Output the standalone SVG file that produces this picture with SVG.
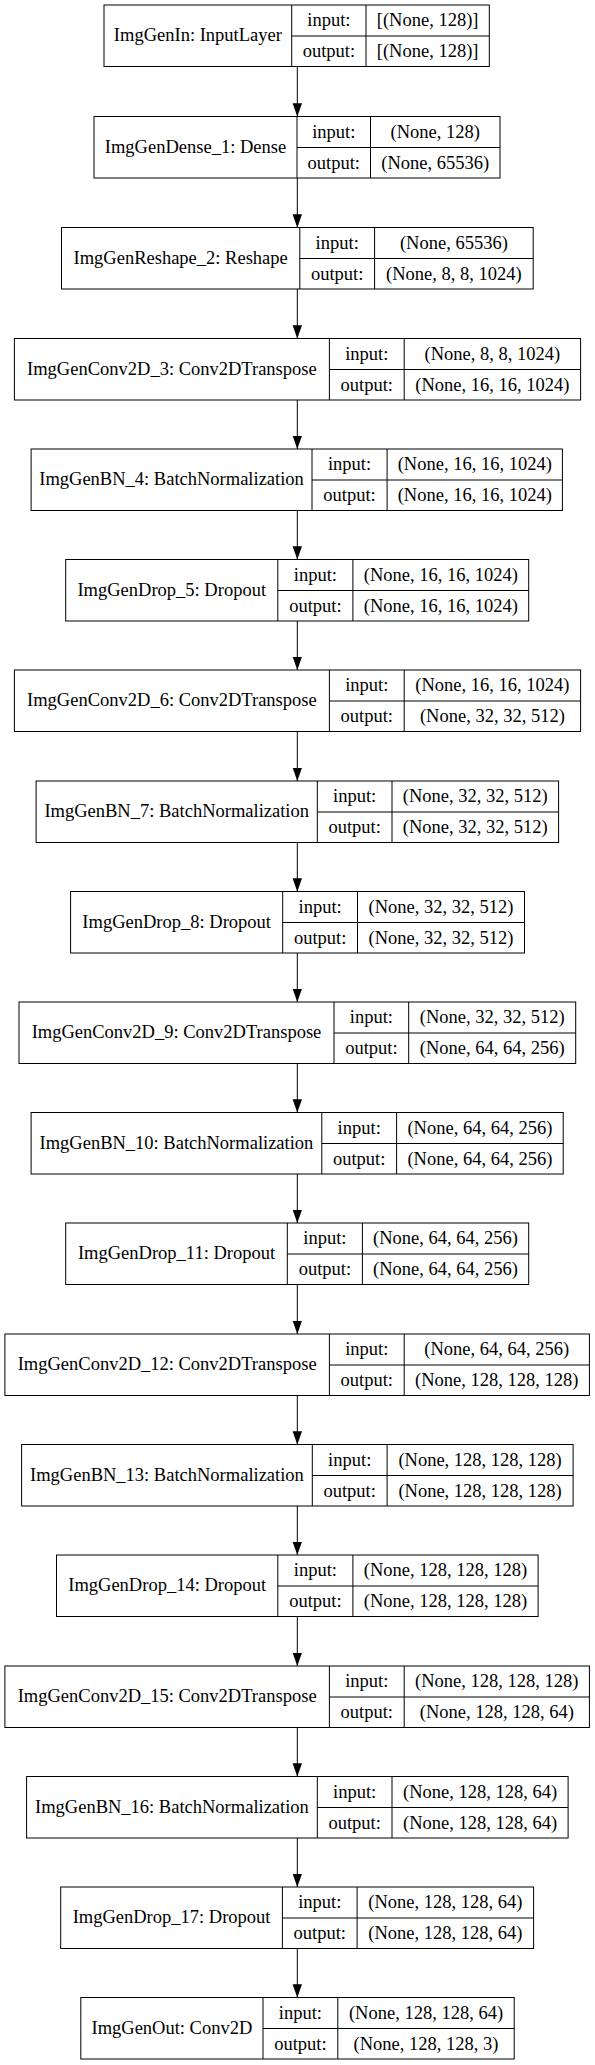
<svg xmlns="http://www.w3.org/2000/svg" width="595" height="2065" viewBox="0 0 595 2065">
<style>
.b{fill:none;stroke:#000;stroke-width:1}
text{font-family:"Liberation Serif","Times New Roman",serif;font-size:18.5px;text-anchor:middle;fill:#000}
.e{stroke:#000;stroke-width:1;fill:none;marker-end:url(#ah)}
</style>
<defs>
<marker id="ah" markerWidth="14" markerHeight="10" refX="13.3" refY="4.7" orient="auto" markerUnits="userSpaceOnUse"><polygon points="0,0 13.3,4.7 0,9.4" fill="#000"/></marker>
</defs>
<rect x="0" y="0" width="595" height="2065" fill="#fff"/>
<g id="edges">
<line class="e" x1="297.3" y1="66.5" x2="297.3" y2="116.5"/>
<line class="e" x1="297.3" y1="178" x2="297.3" y2="227.5"/>
<line class="e" x1="297.3" y1="289" x2="297.3" y2="338.5"/>
<line class="e" x1="297.3" y1="400" x2="297.3" y2="449"/>
<line class="e" x1="297.3" y1="510.5" x2="297.3" y2="559.5"/>
<line class="e" x1="297.3" y1="621" x2="297.3" y2="670"/>
<line class="e" x1="297.3" y1="731.5" x2="297.3" y2="781"/>
<line class="e" x1="297.3" y1="842.5" x2="297.3" y2="891.5"/>
<line class="e" x1="297.3" y1="953" x2="297.3" y2="1002"/>
<line class="e" x1="297.3" y1="1063.5" x2="297.3" y2="1112.5"/>
<line class="e" x1="297.3" y1="1174" x2="297.3" y2="1223"/>
<line class="e" x1="297.3" y1="1284.5" x2="297.3" y2="1334"/>
<line class="e" x1="297.3" y1="1395.5" x2="297.3" y2="1444.5"/>
<line class="e" x1="297.3" y1="1506" x2="297.3" y2="1555"/>
<line class="e" x1="297.3" y1="1616.5" x2="297.3" y2="1666"/>
<line class="e" x1="297.3" y1="1727.5" x2="297.3" y2="1776.5"/>
<line class="e" x1="297.3" y1="1838" x2="297.3" y2="1887"/>
<line class="e" x1="297.3" y1="1948.5" x2="297.3" y2="1997.5"/>
</g>
<g id="n1" transform="translate(0,5)">
<rect class="b" x="104" y="0" width="385.3" height="61.5"/>
<path class="b" d="M291.7,0V61.5M366,0V61.5M291.7,31H489.3"/>
<text x="197.85" y="36">ImgGenIn: InputLayer</text><text x="328.85" y="21">input:</text><text x="328.85" y="52">output:</text>
<text x="427.65" y="21">[(None, 128)]</text><text x="427.65" y="52">[(None, 128)]</text>
</g>
<g id="n2" transform="translate(0,116.5)">
<rect class="b" x="94" y="0" width="406" height="61.5"/>
<path class="b" d="M297,0V61.5M370.5,0V61.5M297,31H500"/>
<text x="195.5" y="36">ImgGenDense_1: Dense</text><text x="333.75" y="21">input:</text><text x="333.75" y="52">output:</text>
<text x="435.25" y="21">(None, 128)</text><text x="435.25" y="52">(None, 65536)</text>
</g>
<g id="n3" transform="translate(0,227.5)">
<rect class="b" x="61.5" y="0" width="471.7" height="61.5"/>
<path class="b" d="M299.8,0V61.5M374.6,0V61.5M299.8,31H533.2"/>
<text x="180.65" y="36">ImgGenReshape_2: Reshape</text><text x="337.2" y="21">input:</text><text x="337.2" y="52">output:</text>
<text x="453.9" y="21">(None, 65536)</text><text x="453.9" y="52">(None, 8, 8, 1024)</text>
</g>
<g id="n4" transform="translate(0,338.5)">
<rect class="b" x="14.4" y="0" width="566.2" height="61.5"/>
<path class="b" d="M329.4,0V61.5M404.2,0V61.5M329.4,31H580.6"/>
<text x="171.9" y="36">ImgGenConv2D_3: Conv2DTranspose</text><text x="366.8" y="21">input:</text><text x="366.8" y="52">output:</text>
<text x="492.4" y="21">(None, 8, 8, 1024)</text><text x="492.4" y="52">(None, 16, 16, 1024)</text>
</g>
<g id="n5" transform="translate(0,449)">
<rect class="b" x="31.1" y="0" width="531.3" height="61.5"/>
<path class="b" d="M312,0V61.5M387.1,0V61.5M312,31H562.4"/>
<text x="171.55" y="36">ImgGenBN_4: BatchNormalization</text><text x="349.55" y="21">input:</text><text x="349.55" y="52">output:</text>
<text x="474.75" y="21">(None, 16, 16, 1024)</text><text x="474.75" y="52">(None, 16, 16, 1024)</text>
</g>
<g id="n6" transform="translate(0,559.5)">
<rect class="b" x="65.7" y="0" width="463" height="61.5"/>
<path class="b" d="M277.8,0V61.5M352.9,0V61.5M277.8,31H528.7"/>
<text x="171.75" y="36">ImgGenDrop_5: Dropout</text><text x="315.35" y="21">input:</text><text x="315.35" y="52">output:</text>
<text x="440.8" y="21">(None, 16, 16, 1024)</text><text x="440.8" y="52">(None, 16, 16, 1024)</text>
</g>
<g id="n7" transform="translate(0,670)">
<rect class="b" x="14.4" y="0" width="566.2" height="61.5"/>
<path class="b" d="M329.4,0V61.5M404.2,0V61.5M329.4,31H580.6"/>
<text x="171.9" y="36">ImgGenConv2D_6: Conv2DTranspose</text><text x="366.8" y="21">input:</text><text x="366.8" y="52">output:</text>
<text x="492.4" y="21">(None, 16, 16, 1024)</text><text x="492.4" y="52">(None, 32, 32, 512)</text>
</g>
<g id="n8" transform="translate(0,781)">
<rect class="b" x="36.1" y="0" width="522.5" height="61.5"/>
<path class="b" d="M317.3,0V61.5M392,0V61.5M317.3,31H558.6"/>
<text x="176.7" y="36">ImgGenBN_7: BatchNormalization</text><text x="354.65" y="21">input:</text><text x="354.65" y="52">output:</text>
<text x="475.3" y="21">(None, 32, 32, 512)</text><text x="475.3" y="52">(None, 32, 32, 512)</text>
</g>
<g id="n9" transform="translate(0,891.5)">
<rect class="b" x="70.6" y="0" width="453.9" height="61.5"/>
<path class="b" d="M282.7,0V61.5M357.5,0V61.5M282.7,31H524.5"/>
<text x="176.65" y="36">ImgGenDrop_8: Dropout</text><text x="320.1" y="21">input:</text><text x="320.1" y="52">output:</text>
<text x="441" y="21">(None, 32, 32, 512)</text><text x="441" y="52">(None, 32, 32, 512)</text>
</g>
<g id="n10" transform="translate(0,1002)">
<rect class="b" x="19" y="0" width="556.7" height="61.5"/>
<path class="b" d="M334,0V61.5M408.7,0V61.5M334,31H575.7"/>
<text x="176.5" y="36">ImgGenConv2D_9: Conv2DTranspose</text><text x="371.35" y="21">input:</text><text x="371.35" y="52">output:</text>
<text x="492.2" y="21">(None, 32, 32, 512)</text><text x="492.2" y="52">(None, 64, 64, 256)</text>
</g>
<g id="n11" transform="translate(0,1112.5)">
<rect class="b" x="31.1" y="0" width="532.1" height="61.5"/>
<path class="b" d="M321.8,0V61.5M396.6,0V61.5M321.8,31H563.2"/>
<text x="176.45" y="36">ImgGenBN_10: BatchNormalization</text><text x="359.2" y="21">input:</text><text x="359.2" y="52">output:</text>
<text x="479.9" y="21">(None, 64, 64, 256)</text><text x="479.9" y="52">(None, 64, 64, 256)</text>
</g>
<g id="n12" transform="translate(0,1223)">
<rect class="b" x="65.7" y="0" width="463" height="61.5"/>
<path class="b" d="M287.3,0V61.5M362.4,0V61.5M287.3,31H528.7"/>
<text x="176.5" y="36">ImgGenDrop_11: Dropout</text><text x="324.85" y="21">input:</text><text x="324.85" y="52">output:</text>
<text x="445.55" y="21">(None, 64, 64, 256)</text><text x="445.55" y="52">(None, 64, 64, 256)</text>
</g>
<g id="n13" transform="translate(0,1334)">
<rect class="b" x="4.9" y="0" width="584.5" height="61.5"/>
<path class="b" d="M329.4,0V61.5M404.2,0V61.5M329.4,31H589.4"/>
<text x="167.15" y="36">ImgGenConv2D_12: Conv2DTranspose</text><text x="366.8" y="21">input:</text><text x="366.8" y="52">output:</text>
<text x="496.8" y="21">(None, 64, 64, 256)</text><text x="496.8" y="52">(None, 128, 128, 128)</text>
</g>
<g id="n14" transform="translate(0,1444.5)">
<rect class="b" x="21.6" y="0" width="551.5" height="61.5"/>
<path class="b" d="M312.3,0V61.5M387.1,0V61.5M312.3,31H573.1"/>
<text x="166.95" y="36">ImgGenBN_13: BatchNormalization</text><text x="349.7" y="21">input:</text><text x="349.7" y="52">output:</text>
<text x="480.1" y="21">(None, 128, 128, 128)</text><text x="480.1" y="52">(None, 128, 128, 128)</text>
</g>
<g id="n15" transform="translate(0,1555)">
<rect class="b" x="56.5" y="0" width="481.6" height="61.5"/>
<path class="b" d="M277.8,0V61.5M352.9,0V61.5M277.8,31H538.1"/>
<text x="167.15" y="36">ImgGenDrop_14: Dropout</text><text x="315.35" y="21">input:</text><text x="315.35" y="52">output:</text>
<text x="445.5" y="21">(None, 128, 128, 128)</text><text x="445.5" y="52">(None, 128, 128, 128)</text>
</g>
<g id="n16" transform="translate(0,1666)">
<rect class="b" x="4.9" y="0" width="584.5" height="61.5"/>
<path class="b" d="M329.4,0V61.5M404.2,0V61.5M329.4,31H589.4"/>
<text x="167.15" y="36">ImgGenConv2D_15: Conv2DTranspose</text><text x="366.8" y="21">input:</text><text x="366.8" y="52">output:</text>
<text x="496.8" y="21">(None, 128, 128, 128)</text><text x="496.8" y="52">(None, 128, 128, 64)</text>
</g>
<g id="n17" transform="translate(0,1776.5)">
<rect class="b" x="26.6" y="0" width="541.5" height="61.5"/>
<path class="b" d="M317.3,0V61.5M392,0V61.5M317.3,31H568.1"/>
<text x="171.95" y="36">ImgGenBN_16: BatchNormalization</text><text x="354.65" y="21">input:</text><text x="354.65" y="52">output:</text>
<text x="480.05" y="21">(None, 128, 128, 64)</text><text x="480.05" y="52">(None, 128, 128, 64)</text>
</g>
<g id="n18" transform="translate(0,1887)">
<rect class="b" x="60.7" y="0" width="472.9" height="61.5"/>
<path class="b" d="M282.4,0V61.5M357.1,0V61.5M282.4,31H533.6"/>
<text x="171.55" y="36">ImgGenDrop_17: Dropout</text><text x="319.75" y="21">input:</text><text x="319.75" y="52">output:</text>
<text x="445.35" y="21">(None, 128, 128, 64)</text><text x="445.35" y="52">(None, 128, 128, 64)</text>
</g>
<g id="n19" transform="translate(0,1997.5)">
<rect class="b" x="80.8" y="0" width="433.4" height="61.5"/>
<path class="b" d="M263,0V61.5M337.8,0V61.5M263,31H514.2"/>
<text x="171.9" y="36">ImgGenOut: Conv2D</text><text x="300.4" y="21">input:</text><text x="300.4" y="52">output:</text>
<text x="426" y="21">(None, 128, 128, 64)</text><text x="426" y="52">(None, 128, 128, 3)</text>
</g>
</svg>
